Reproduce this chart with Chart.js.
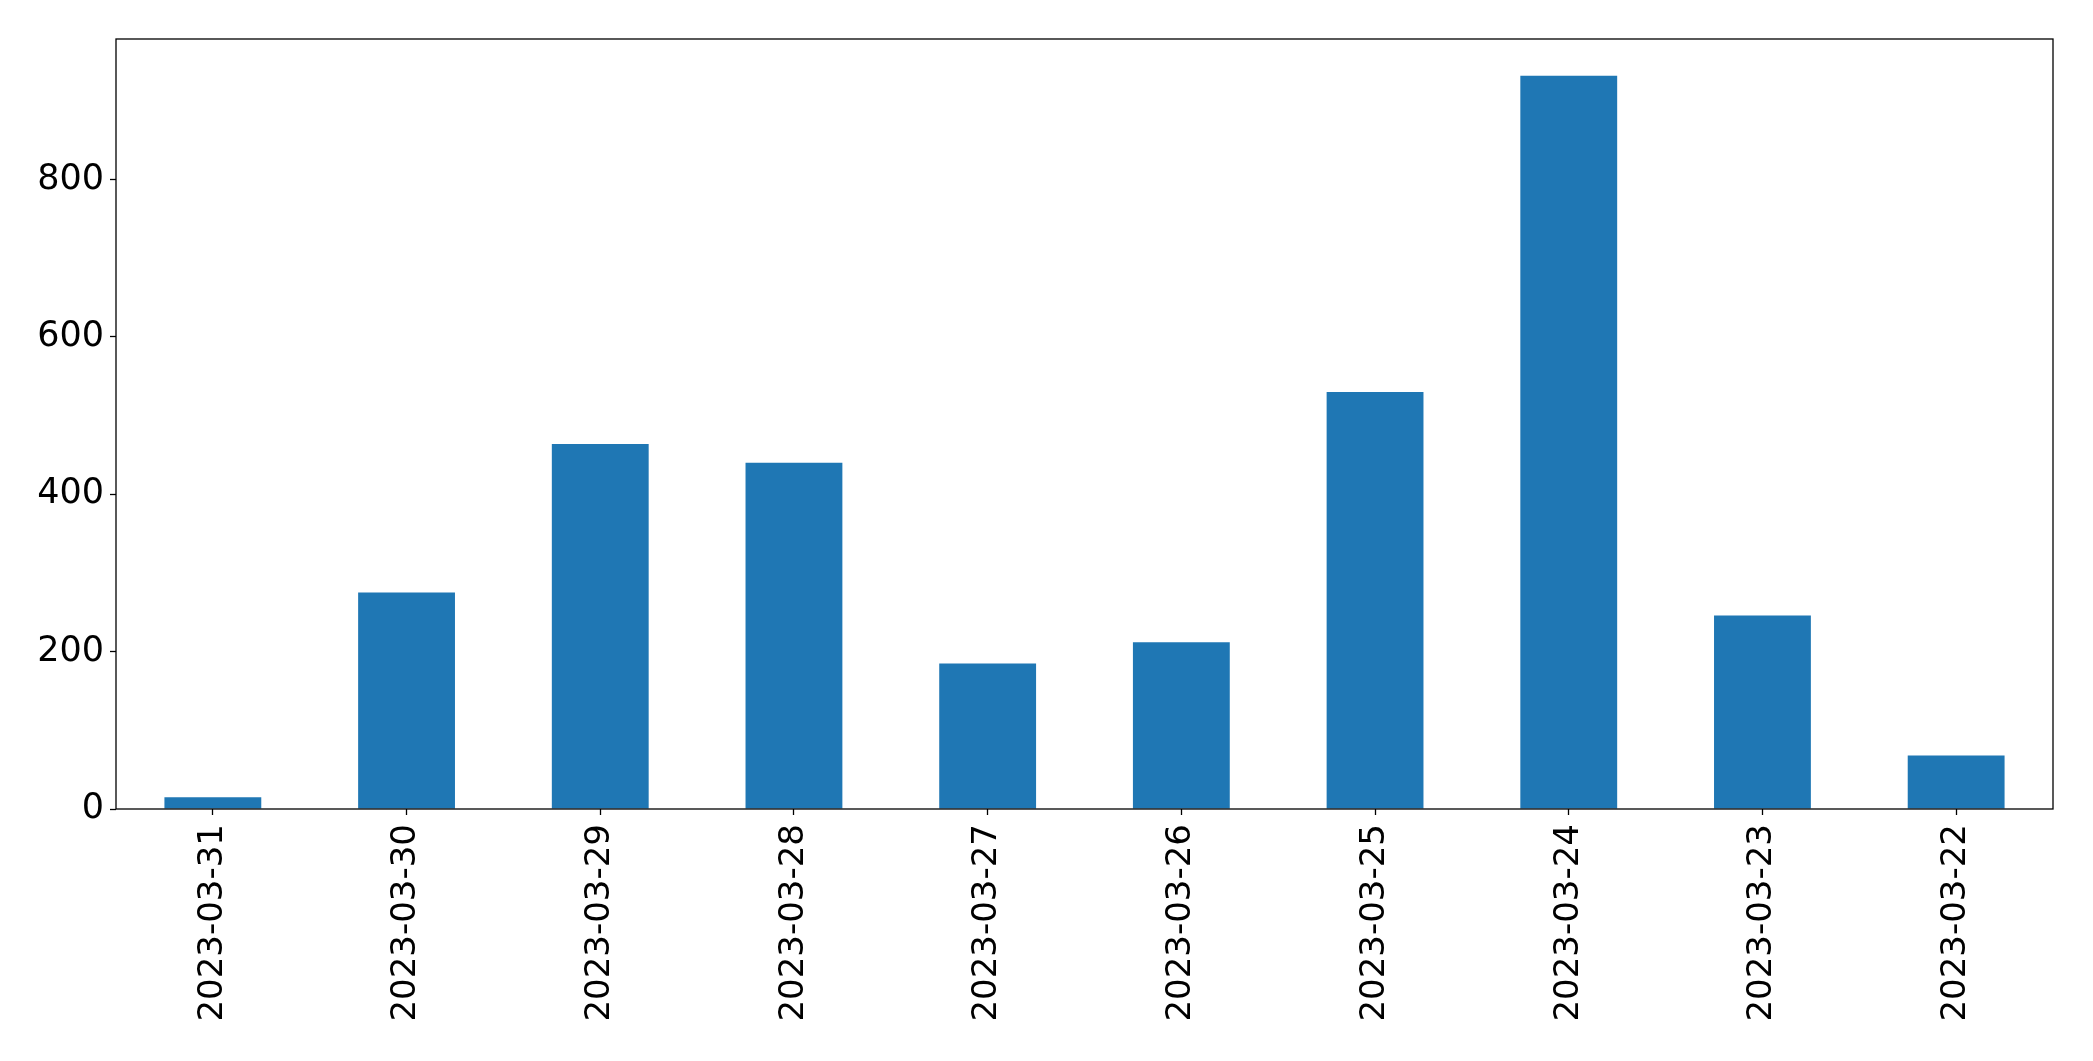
<!DOCTYPE html>
<html>
<head>
<meta charset="utf-8">
<script src="https://cdn.jsdelivr.net/npm/chart.js@4/dist/chart.umd.min.js"></script>
<style>
  html, body { margin: 0; padding: 0; background: #fff; }
  #wrap { width: 2093px; height: 1061px; }
</style>
</head>
<body>
<div id="wrap"><canvas id="chart" width="2093" height="1061"></canvas></div>
<script>
const dates = ["2023-03-31", "2023-03-30", "2023-03-29", "2023-03-28", "2023-03-27",
               "2023-03-26", "2023-03-25", "2023-03-24", "2023-03-23", "2023-03-22"];
const counts = [15, 275, 464, 440, 185, 212, 530, 932, 246, 68];
const yTicks = [0, 200, 400, 600, 800];

const yMax = Math.max(...counts) * 1.05;

// box around the plot area, like matplotlib spines
const frame = {
  id: "frame",
  afterDraw(chart) {
    const a = chart.chartArea, ctx = chart.ctx;
    ctx.save();
    ctx.strokeStyle = "#000";
    ctx.lineWidth = 1.3;
    ctx.strokeRect(a.left, a.top, a.right - a.left, a.bottom - a.top);
    ctx.restore();
  }
};

new Chart(document.getElementById("chart"), {
  type: "bar",
  data: {
    labels: dates,
    datasets: [{ data: counts, backgroundColor: "#1f77b4", borderWidth: 0,
                 categoryPercentage: 1, barPercentage: 0.5 }]
  },
  options: {
    responsive: false,
    animation: false,
    layout: { padding: { left: 0, top: 39, right: 40, bottom: 0 } },
    plugins: { legend: { display: false }, tooltip: { enabled: false } },
    scales: {
      x: {
        offset: true,
        grid: { display: true, offset: false, drawOnChartArea: false, drawTicks: true, tickLength: 6, color: "#000", tickWidth: 1.3 },
        border: { display: false },
        ticks: { color: "#000", font: { family: "DejaVu Sans", size: 34 }, minRotation: 90, maxRotation: 90, padding: 9 },
        afterFit(scale) { scale.height = 252; }
      },
      y: {
        min: 0,
        max: yMax,
        grid: { display: true, drawOnChartArea: false, drawTicks: true, tickLength: 6, color: "#000", tickWidth: 1.3 },
        border: { display: false },
        ticks: { color: "#000", font: { family: "DejaVu Sans", size: 35 }, stepSize: 200, includeBounds: false, padding: 6 },
        afterBuildTicks(scale) { scale.ticks = yTicks.map(v => ({ value: v })); },
        afterFit(scale) { scale.width = 116; }
      }
    }
  },
  plugins: [frame]
});
</script>
</body>
</html>
